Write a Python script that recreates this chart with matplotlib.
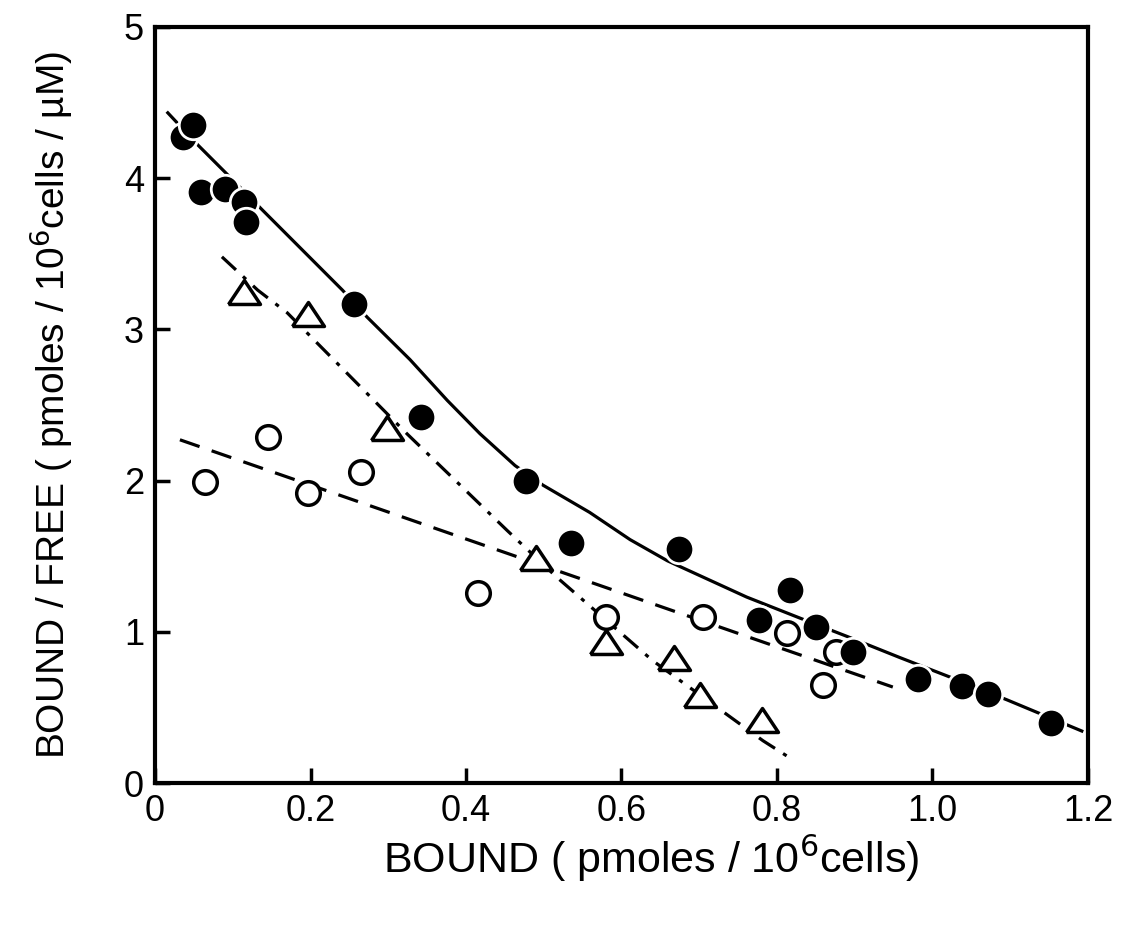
import matplotlib
matplotlib.use("Agg")
import matplotlib.pyplot as plt
from matplotlib.font_manager import fontManager

# ---- data ----
filled_x = [0.036, 0.049, 0.059, 0.090, 0.114, 0.117, 0.256, 0.342, 0.477, 0.535,
            0.674, 0.817, 0.777, 0.850, 0.898, 0.981, 1.038, 1.071, 1.152]
filled_y = [4.27, 4.35, 3.91, 3.93, 3.84, 3.71, 3.17, 2.42, 2.00, 1.59,
            1.55, 1.28, 1.08, 1.03, 0.87, 0.69, 0.64, 0.59, 0.40]

open_x = [0.064, 0.145, 0.197, 0.265, 0.415, 0.580, 0.705, 0.813, 0.876, 0.859]
open_y = [1.99, 2.29, 1.92, 2.06, 1.26, 1.10, 1.10, 0.99, 0.87, 0.65]

tri_x = [0.114, 0.197, 0.298, 0.490, 0.580, 0.668, 0.701, 0.781]
tri_y = [3.25, 3.10, 2.35, 1.49, 0.93, 0.83, 0.58, 0.42]

# fitted lines as drawn in the figure
curve_x = [0.015, 0.055, 0.090, 0.138, 0.241, 0.273, 0.328, 0.376, 0.418, 0.463,
           0.499, 0.559, 0.611, 0.659, 0.761, 0.830, 0.890, 0.958, 1.023, 1.096, 1.194]
curve_y = [4.44, 4.22, 4.04, 3.79, 3.26, 3.08, 2.80, 2.53, 2.31, 2.10,
           1.97, 1.79, 1.61, 1.47, 1.23, 1.09, 0.97, 0.83, 0.70, 0.55, 0.34]

open_line_x = [0.032, 0.949]
open_line_y = [2.27, 0.635]

tri_line_x = [0.086, 0.132, 0.170, 0.324, 0.453, 0.517, 0.640, 0.782, 0.817]
tri_line_y = [3.48, 3.26, 3.11, 2.31, 1.67, 1.36, 0.81, 0.28, 0.165]

xticks = [0, 0.2, 0.4, 0.6, 0.8, 1.0, 1.2]
xticklabels = ["0", "0.2", "0.4", "0.6", "0.8", "1.0", "1.2"]
yticks = [0, 1, 2, 3, 4, 5]
yticklabels = ["0", "1", "2", "3", "4", "5"]

# ---- fonts ----
names = {f.name for f in fontManager.ttflist}
narrow = "Liberation Sans Narrow" if "Liberation Sans Narrow" in names else "Liberation Sans"
plt.rcParams["font.family"] = [narrow, "DejaVu Sans"]

fig = plt.figure(figsize=(11.26, 9.30), dpi=100)
ax = fig.add_axes([0.1377, 0.158, 0.9662 - 0.1377, 0.971 - 0.158])

lw = 2.3
ax.plot(curve_x, curve_y, color="black", lw=lw, solid_capstyle="butt", zorder=2)
ax.plot(open_line_x, open_line_y, color="black", lw=lw, dashes=(6.5, 4.0), zorder=2)
ax.plot(tri_line_x, tri_line_y, color="black", lw=lw, dashes=(6.0, 3.0, 1.3, 3.0), zorder=2)

tri_marker = [(-1, -0.75), (1, -0.75), (0, 0.75), (-1, -0.75)]
ax.plot(filled_x, filled_y, ls="none", marker="o", ms=20.5, mfc="black",
        mec="white", mew=2.0, zorder=4)
ax.plot(open_x, open_y, ls="none", marker="o", ms=17, mfc="white",
        mec="black", mew=2.5, zorder=3)
ax.plot(tri_x, tri_y, ls="none", marker=tri_marker, ms=23, mfc="white",
        mec="black", mew=2.5, zorder=3)

ax.set_xlim(0, 1.2)
ax.set_ylim(0, 5)
ax.set_xticks(xticks)
ax.set_xticklabels(xticklabels, fontsize=26, family=["Liberation Sans", "DejaVu Sans"])
ax.set_yticks(yticks)
ax.set_yticklabels(yticklabels, fontsize=26, family=["Liberation Sans", "DejaVu Sans"])
ax.tick_params(direction="in", length=11, width=2.5, pad=8)
for s in ax.spines.values():
    s.set_linewidth(3)

fig.text(0.578, 0.077, "BOUND ( pmoles / 10$^6$cells)", ha="center", va="center",
         fontsize=31)
fig.text(0.045, 0.565, "BOUND / FREE ( pmoles / 10$^6$cells / \u00b5M)", ha="center",
         va="center", rotation=90, fontsize=28)

fig.savefig("out.png", dpi=100)
